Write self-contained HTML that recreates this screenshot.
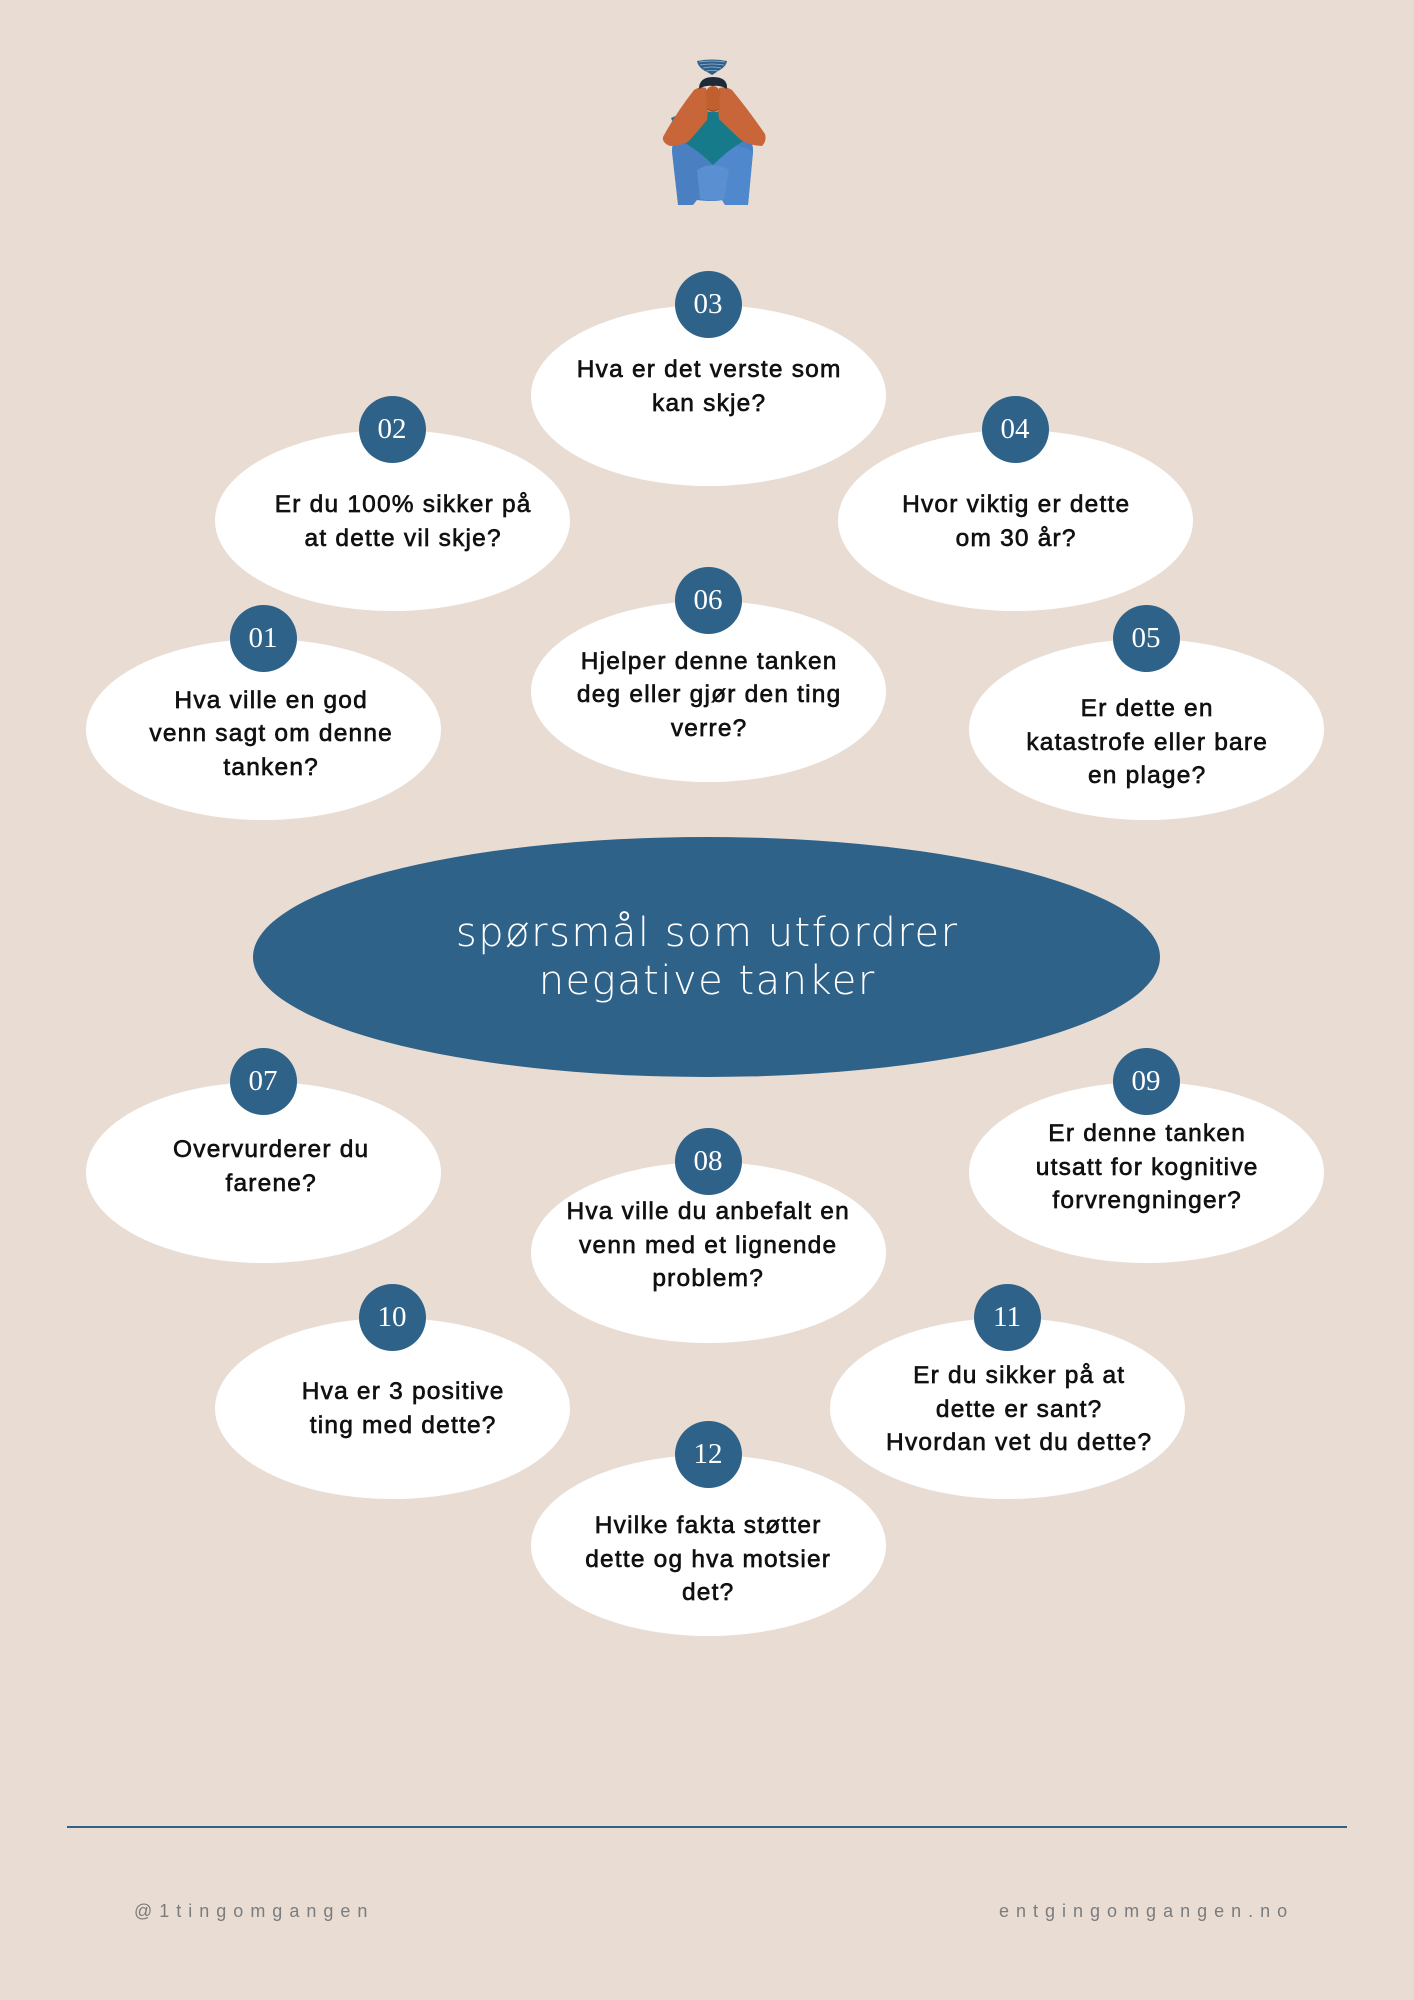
<!DOCTYPE html>
<html>
<head>
<meta charset="utf-8">
<style>
  html,body{margin:0;padding:0;}
  body{width:1414px;height:2000px;background:#e9dcd3;position:relative;overflow:hidden;}
  .e{position:absolute;width:355px;height:181px;border-radius:50%;background:#ffffff;}
  .b{position:absolute;width:67px;height:67px;border-radius:50%;background:#2e6289;color:#ffffff;
     font-family:"Liberation Serif",serif;font-size:29px;line-height:67px;text-align:center;}
  .t{position:absolute;width:360px;text-align:center;white-space:nowrap;
     font-family:"Liberation Sans",sans-serif;font-size:24.5px;letter-spacing:1.2px;line-height:33.7px;
     color:#111111;-webkit-text-stroke:0.65px #111111;padding-left:1.2px;}
  .center{position:absolute;left:253px;top:837px;width:907px;height:240px;border-radius:50%;background:#2e6289;}
  .title{position:absolute;left:253px;top:909px;width:907px;text-align:center;white-space:nowrap;
     font-family:"DejaVu Sans","Liberation Sans",sans-serif;font-weight:300;font-size:40px;letter-spacing:1.5px;line-height:48px;color:#ffffff;padding-left:1.5px;box-sizing:border-box;}
  .rule{position:absolute;left:67px;top:1826px;width:1280px;height:2px;background:#2e6289;}
  .foot{position:absolute;top:1902px;font-family:"Liberation Sans",sans-serif;font-size:18px;line-height:19px;
     letter-spacing:7px;color:#7b7c7e;white-space:nowrap;}
</style>
</head>
<body>

<!-- figure -->
<svg style="position:absolute;left:640px;top:50px;" width="140" height="165" viewBox="640 50 140 165">
  <!-- storm cloud -->
  <path d="M697,61 Q712,58 727,61 Q726,67 718,71 Q714,74 712,75 Q709,73 705,71 Q698,67 697,61 Z" fill="#2e5f8a"/>
  <path d="M699,62 Q712,60 725,62 M700,65 Q712,63 724,65 M703,68 Q712,66 721,68 M706,71 Q712,70 718,71" stroke="#9ab8d0" stroke-width="0.7" fill="none"/>
  <!-- legs -->
  <path d="M672,152 Q671,136 688,135 L738,135 Q754,136 753,152 L748,205 L725,205 L722,200 Q713,202 697,200 L693,205 L678,205 Z" fill="#4a80c2"/>
  <path d="M713,150 Q735,140 753,152 L748,205 L725,205 L722,200 Q716,201 713,201 Z" fill="#4f88cc"/>
  <path d="M697,170 Q713,160 729,170 L724,199 Q713,202 700,199 Z" fill="#5a8fd2"/>
  <!-- shirt -->
  <path d="M671,118 Q688,110 705,110 Q713,114 721,110 Q737,110 748,118 L745,140 Q728,150 713,165 Q698,150 680,140 Z" fill="#177a8a"/>
  <!-- arms -->
  <path d="M694,90 Q700,86 706,88 Q709,104 707,120 Q698,131 688,142 Q679,146 670,146 Q662,143 663,137 Q676,113 694,90 Z" fill="#c8663a"/>
  <path d="M732,90 Q726,86 719,88 Q717,104 719,119 Q728,128 741,140 Q752,146 762,146 Q767,141 765,134 Q750,112 732,90 Z" fill="#c8663a"/>
  <!-- face -->
  <ellipse cx="713" cy="99" rx="9" ry="13" fill="#c0602f"/>
  <path d="M707,109 Q713,113 719,109" stroke="#9c4a24" stroke-width="1.2" fill="none"/>
  <path d="M699,89 Q699,77 713,77 Q728,77 727,89 Q720,85 713,86 Q705,85 699,89 Z" fill="#1f2a38"/>
  <!-- hands -->
  <ellipse cx="702" cy="101" rx="4.5" ry="11" fill="#c8663a"/>
  <ellipse cx="724" cy="101" rx="4.5" ry="11" fill="#c8663a"/>
</svg>

<!-- 01 -->
<div class="e" style="left:85.5px;top:638.5px;"></div>
<div class="b" style="left:229.5px;top:604.5px;">01</div>
<div class="t" style="left:90px;top:683.5px;">Hva ville en god<br>venn sagt om denne<br>tanken?</div>

<!-- 02 -->
<div class="e" style="left:214.5px;top:429.5px;"></div>
<div class="b" style="left:358.5px;top:395.5px;">02</div>
<div class="t" style="left:222px;top:488px;">Er du 100% sikker på<br>at dette vil skje?</div>

<!-- 03 -->
<div class="e" style="left:530.5px;top:304.5px;"></div>
<div class="b" style="left:674.5px;top:270.5px;">03</div>
<div class="t" style="left:528px;top:353px;">Hva er det verste som<br>kan skje?</div>

<!-- 04 -->
<div class="e" style="left:837.5px;top:429.5px;"></div>
<div class="b" style="left:981.5px;top:395.5px;">04</div>
<div class="t" style="left:835px;top:488px;">Hvor viktig er dette<br>om 30 år?</div>

<!-- 05 -->
<div class="e" style="left:968.5px;top:638.5px;"></div>
<div class="b" style="left:1112.5px;top:604.5px;">05</div>
<div class="t" style="left:966px;top:692px;">Er dette en<br>katastrofe eller bare<br>en plage?</div>

<!-- 06 -->
<div class="e" style="left:530.5px;top:600.5px;"></div>
<div class="b" style="left:674.5px;top:566.5px;">06</div>
<div class="t" style="left:528px;top:644.7px;">Hjelper denne tanken<br>deg eller gjør den ting<br>verre?</div>

<!-- center -->
<div class="center"></div>
<div class="title">spørsmål som utfordrer<br>negative tanker</div>

<!-- 07 -->
<div class="e" style="left:85.5px;top:1081.5px;"></div>
<div class="b" style="left:229.5px;top:1047.5px;">07</div>
<div class="t" style="left:90px;top:1133px;">Overvurderer du<br>farene?</div>

<!-- 08 -->
<div class="e" style="left:530.5px;top:1161.5px;"></div>
<div class="b" style="left:674.5px;top:1127.5px;">08</div>
<div class="t" style="left:527px;top:1195px;">Hva ville du anbefalt en<br>venn med et lignende<br>problem?</div>

<!-- 09 -->
<div class="e" style="left:968.5px;top:1081.5px;"></div>
<div class="b" style="left:1112.5px;top:1047.5px;">09</div>
<div class="t" style="left:966px;top:1117px;">Er denne tanken<br>utsatt for kognitive<br>forvrengninger?</div>

<!-- 10 -->
<div class="e" style="left:214.5px;top:1317.5px;"></div>
<div class="b" style="left:358.5px;top:1283.5px;">10</div>
<div class="t" style="left:222px;top:1375px;">Hva er 3 positive<br>ting med dette?</div>

<!-- 11 -->
<div class="e" style="left:829.5px;top:1317.5px;"></div>
<div class="b" style="left:973.5px;top:1283.5px;">11</div>
<div class="t" style="left:838px;top:1359px;">Er du sikker på at<br>dette er sant?<br>Hvordan vet du dette?</div>

<!-- 12 -->
<div class="e" style="left:530.5px;top:1454.5px;"></div>
<div class="b" style="left:674.5px;top:1420.5px;">12</div>
<div class="t" style="left:527px;top:1509px;">Hvilke fakta støtter<br>dette og hva motsier<br>det?</div>

<!-- footer -->
<div class="rule"></div>
<div class="foot" style="left:134px;">@1tingomgangen</div>
<div class="foot" style="left:999px;">entgingomgangen.no</div>

</body>
</html>
